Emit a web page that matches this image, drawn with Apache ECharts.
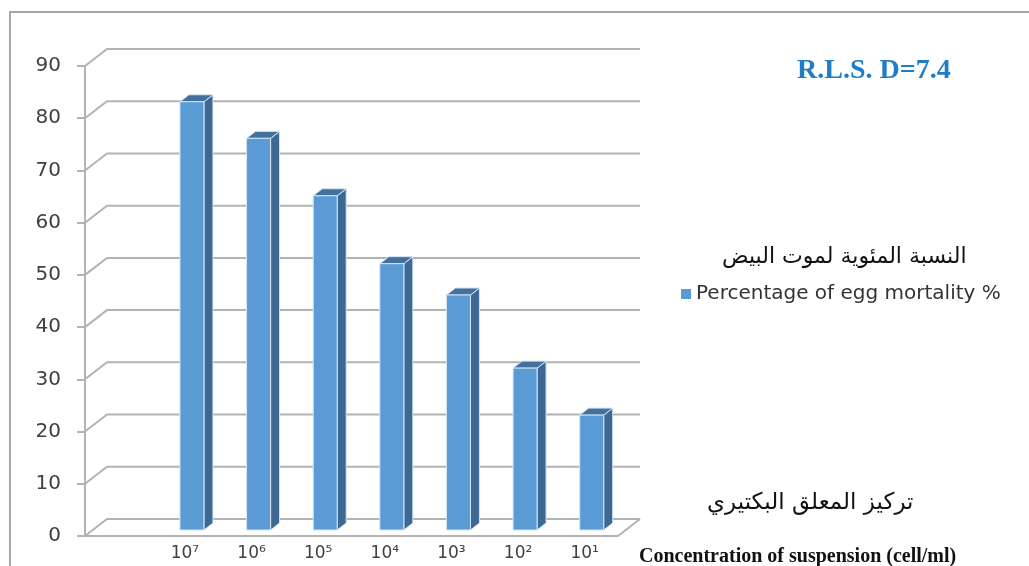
<!DOCTYPE html>
<html>
<head>
<meta charset="utf-8">
<script src="https://cdn.jsdelivr.net/npm/echarts@6/dist/echarts.min.js"></script>
<style>html,body{margin:0;padding:0;background:#fff}#c{width:1029px;height:566px}</style>
</head>
<body>
<div id="c"></div>
<script>
// ---- data ----
const categories = ['', '10\u2077', '10\u2076', '10\u2075', '10\u2074', '10\u00B3', '10\u00B2', '10\u00B9'];
const mortality = [null, 82, 75, 64, 51, 45, 31, 22];
const yTicks = [0, 10, 20, 30, 40, 50, 60, 70, 80, 90];
const seriesName = 'Percentage of egg mortality %';
const seriesNameAr = 'النسبة المئوية لموت البيض';
const xTitleAr = 'تركيز المعلق البكتيري';
const xTitleEn = 'Concentration of suspension (cell/ml)';
const lsdText = 'R.L.S. D=7.4';

// ---- 3D-look constants ----
const WALL_DX = 22, WALL_DY = -17;   // back wall offset
const BAR_OX = 7, BAR_OY = -6;       // bar position in depth
const BAR_W = 24, BAR_DX = 9, BAR_DY = -7;
const GRID_COLOR = '#b3b3b3';

const chart = echarts.init(document.getElementById('c'));

const barData = [];
mortality.forEach((v, i) => { if (v !== null) barData.push([i, v]); });

chart.setOption({
  animation: false,
  grid: { left: 85, right: 411, top: 66, bottom: 30 },
  legend: {
    data: [seriesName],
    left: 676, top: 279,
    icon: 'rect', itemWidth: 10, itemHeight: 10, itemGap: 10,
    textStyle: { fontFamily: 'DejaVu Sans', fontSize: 20, color: '#333' }
  },
  title: [
    { text: lsdText, left: 792, top: 52,
      textStyle: { fontFamily: 'Liberation Serif', fontWeight: 'bold', fontSize: 28, color: '#1f7cc6' } },
    { text: seriesNameAr, left: 717, top: 241,
      textStyle: { fontFamily: 'DejaVu Sans', fontWeight: 'normal', fontSize: 22, color: '#111' } },
    { text: xTitleAr, left: 702, top: 487,
      textStyle: { fontFamily: 'DejaVu Sans', fontWeight: 'normal', fontSize: 23, color: '#111' } },
    { text: xTitleEn, left: 634, top: 542,
      textStyle: { fontFamily: 'Liberation Serif', fontWeight: 'bold', fontSize: 20, color: '#111' } }
  ],
  graphic: [
    { type: 'rect', shape: { x: 10, y: 12, width: 1100, height: 700 }, silent: true,
      style: { fill: 'none', stroke: '#a6a6a6', lineWidth: 2 } }
  ],
  xAxis: {
    type: 'category', data: categories, boundaryGap: true,
    axisLine: { show: true, lineStyle: { color: GRID_COLOR, width: 2 } },
    axisTick: { show: false },
    splitLine: { show: false },
    axisLabel: { interval: 0, margin: 9, fontFamily: 'DejaVu Sans', fontSize: 17, color: '#404040' }
  },
  yAxis: {
    type: 'value', min: 0, max: 90, interval: 10,
    axisLine: { show: true, lineStyle: { color: GRID_COLOR, width: 2 } },
    axisTick: { show: true, length: 8, lineStyle: { color: GRID_COLOR, width: 2 } },
    splitLine: { show: false },
    axisLabel: { margin: 24, fontFamily: 'DejaVu Sans', fontSize: 20, color: '#404040' }
  },
  series: [
    {
      type: 'custom', name: 'wall', silent: true, z: 1,
      data: yTicks.map(v => [0, v]),
      renderItem: function (params, api) {
        const cs = params.coordSys;
        const y = api.coord([0, api.value(1)])[1];
        const x0 = cs.x, x1 = cs.x + cs.width;
        const children = [
          { type: 'polyline', shape: { points: [[x0, y], [x0 + WALL_DX, y + WALL_DY], [x1 + WALL_DX, y + WALL_DY]] },
            style: { fill: 'none', stroke: GRID_COLOR, lineWidth: 2 } }
        ];
        if (api.value(1) === 0) {
          children.push({ type: 'line', shape: { x1: x1, y1: y, x2: x1 + WALL_DX, y2: y + WALL_DY },
            style: { stroke: GRID_COLOR, lineWidth: 2 } });
        }
        return { type: 'group', children: children };
      }
    },
    {
      type: 'custom', name: seriesName, z: 5,
      itemStyle: { color: '#5b9bd5' },
      data: barData,
      encode: { x: 0, y: 1 },
      renderItem: function (params, api) {
        const base = api.coord([api.value(0), 0]);
        const top = api.coord([api.value(0), api.value(1)]);
        const x = base[0] - BAR_W / 2 + BAR_OX;
        const yb = base[1] + BAR_OY, yt = top[1] + BAR_OY;
        const edge = '#d6e5f5';
        return {
          type: 'group',
          children: [
            { type: 'polygon', shape: { points: [[x + BAR_W, yt], [x + BAR_W + BAR_DX, yt + BAR_DY], [x + BAR_W + BAR_DX, yb + BAR_DY], [x + BAR_W, yb]] },
              style: { fill: '#3c6893', stroke: edge, lineWidth: 1 } },
            { type: 'polygon', shape: { points: [[x, yt], [x + BAR_DX, yt + BAR_DY], [x + BAR_W + BAR_DX, yt + BAR_DY], [x + BAR_W, yt]] },
              style: { fill: '#41719c', stroke: edge, lineWidth: 1 } },
            { type: 'rect', shape: { x: x, y: yt, width: BAR_W, height: yb - yt },
              style: { fill: '#5b9bd5', stroke: edge, lineWidth: 1 } }
          ]
        };
      }
    }
  ]
});
</script>
</body>
</html>
